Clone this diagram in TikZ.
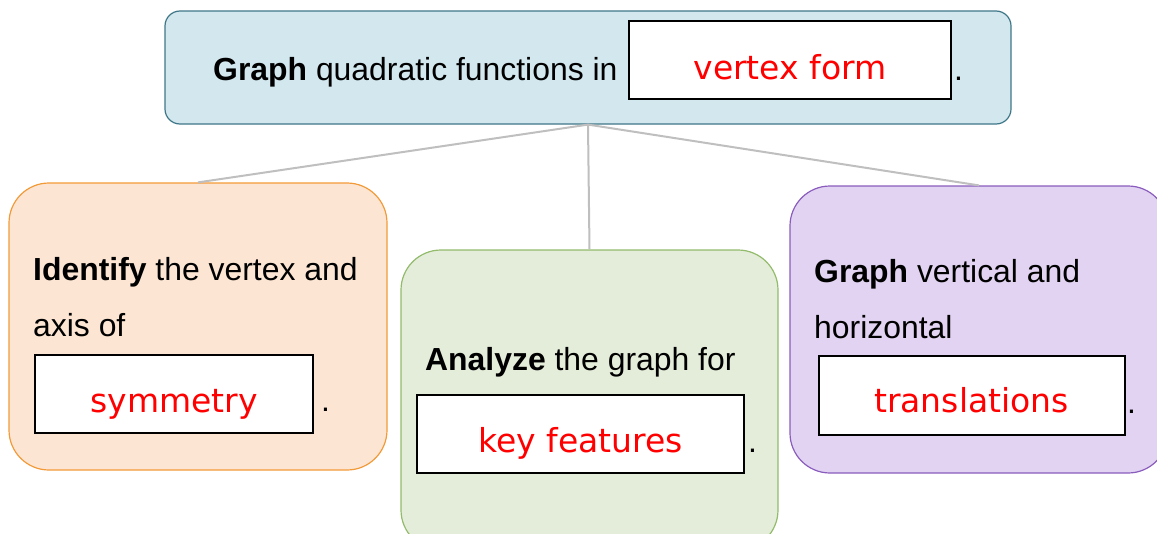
\documentclass[tikz,border=0pt]{standalone}
\usepackage{fontspec}
\setmainfont{Liberation Sans}
\newfontfamily\handfont{DejaVu Sans}
\definecolor{topfill}{HTML}{D2E7EE}
\definecolor{topdraw}{HTML}{3F7788}
\definecolor{orfill}{HTML}{FCE6D3}
\definecolor{ordraw}{HTML}{F39A38}
\definecolor{grfill}{HTML}{E4EDD9}
\definecolor{grdraw}{HTML}{92BB6B}
\definecolor{pufill}{HTML}{E1D3F1}
\definecolor{pudraw}{HTML}{8A5CBD}
\definecolor{conncol}{HTML}{BFBFBF}
\definecolor{hand}{HTML}{FF0000}
\tikzset{
  panel/.style={rectangle, inner sep=0pt, line width=1.2pt},
  blank/.style={rectangle, draw=black, fill=white, line width=2pt, inner sep=0pt},
  body/.style={anchor=base west, inner sep=0pt, font=\fontsize{31.9}{36}\selectfont},
  answer/.style={anchor=base, inner sep=0pt, text=hand, font=\handfont\fontsize{33}{38}\selectfont},
  dot/.style={anchor=base west, inner sep=0pt, font=\fontsize{31.9}{36}\selectfont},
  conn/.style={draw=conncol, line width=2pt}
}
\begin{document}
\begin{tikzpicture}[x=1pt,y=-1pt]
\useasboundingbox (0,0) rectangle (1157,533);
\clip (0,0) rectangle (1157,533);
% panels
\node[panel, draw=topdraw, fill=topfill, rounded corners=15pt, minimum width=846pt, minimum height=113pt] (top) at (588,67.5) {};
\node[panel, draw=ordraw, fill=orfill, rounded corners=40pt, minimum width=378pt, minimum height=287pt] (left) at (198,326.5) {};
\node[panel, draw=grdraw, fill=grfill, rounded corners=40pt, minimum width=377pt, minimum height=300pt] (mid) at (589.5,400) {};
\node[panel, draw=pudraw, fill=pufill, rounded corners=40pt, minimum width=378pt, minimum height=287pt] (right) at (979,329.5) {};
% connectors
\draw[conn] (top.south) -- (left.north);
\draw[conn] (top.south) -- (mid.north);
\draw[conn] (top.south) -- (right.north);
% top content
\node[body] (t1) at (213,80) {\textbf{Graph} quadratic functions in};
\node[blank, minimum width=322pt, minimum height=78pt] (b1) at (790,60) {};
\node[answer] (a1) at (790,79) {vertex form};
\node[dot] (d1) at (954,80) {.};
% left content
\node[body] (l1) at (33,280) {\textbf{Identify} the vertex and};
\node[body] (l2) at (33,336) {axis of};
\node[blank, minimum width=278pt, minimum height=78pt] (b2) at (174,394) {};
\node[answer] (a2) at (174,412) {symmetry};
\node[dot] (d2) at (321,411) {.};
% middle content
\node[body] (m1) at (425,370) {\textbf{Analyze} the graph for};
\node[blank, minimum width=327pt, minimum height=78pt] (b3) at (580.5,434) {};
\node[answer] (a3) at (580.5,452) {key features};
\node[dot] (d3) at (748,452.5) {.};
% right content
\node[body] (r1) at (814,282) {\textbf{Graph} vertical and};
\node[body] (r2) at (814,338) {horizontal};
\node[blank, minimum width=306pt, minimum height=79pt] (b4) at (971.5,395) {};
\node[answer] (a4) at (971.5,412) {translations};
\node[dot] (d4) at (1127,413) {.};
\end{tikzpicture}
\end{document}
